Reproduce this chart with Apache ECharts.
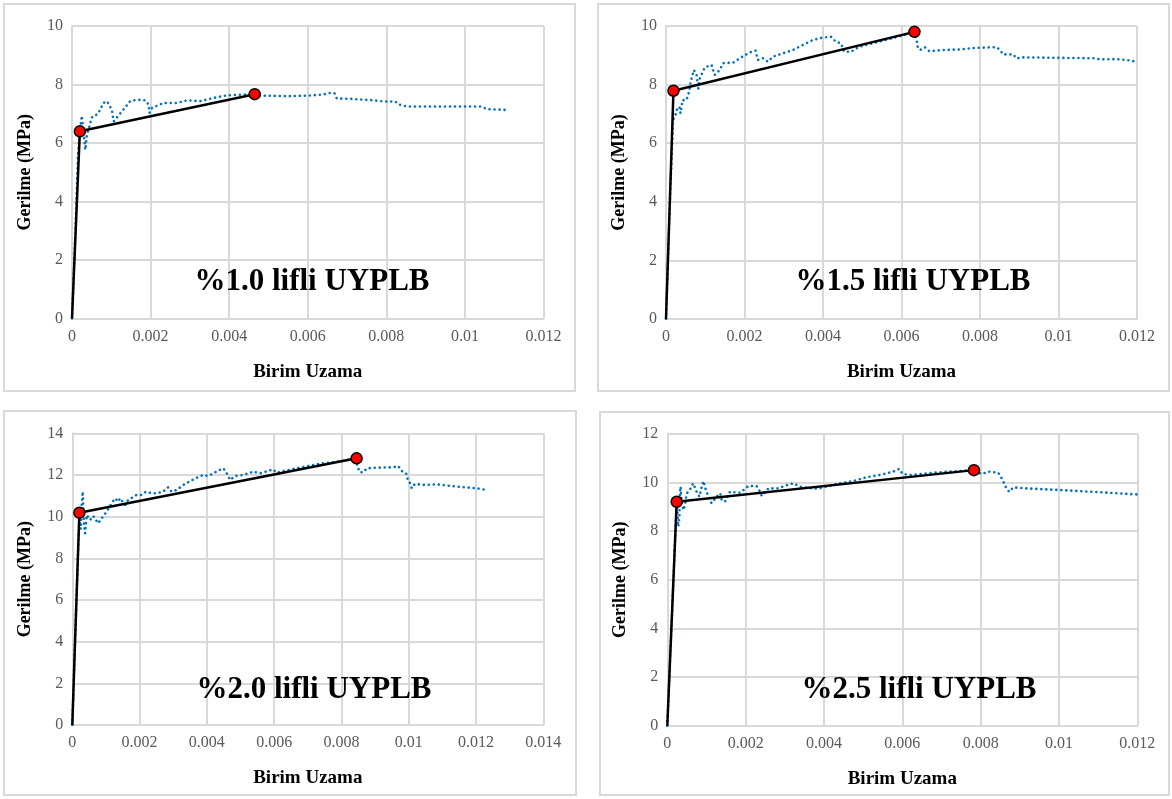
<!DOCTYPE html>
<html>
<head>
<meta charset="utf-8">
<script src="https://cdn.jsdelivr.net/npm/echarts/dist/echarts.min.js"></script>
<style>
  html, body { margin: 0; padding: 0; background: #fff; }
  #chart { width: 1172px; height: 799px; }
</style>
</head>
<body>
<div id="chart"></div>
<script>
// Measured stress-strain curves (strain, stress in MPa) and bilinear idealisations
const curve10 = [[0,0],[0.00008,2.8],[0.00015,5.5],[0.0002,6.4],[0.00025,6.93],[0.0003,6.3],[0.00034,5.77],[0.00038,6.3],[0.00045,6.6],[0.0005,6.86],[0.00055,6.94],[0.00064,6.97],[0.00072,7.14],[0.0008,7.37],[0.00089,7.43],[0.00097,7.25],[0.00102,7.08],[0.00106,6.74],[0.00127,7.08],[0.00148,7.43],[0.00165,7.48],[0.00187,7.46],[0.00195,7.31],[0.00197,7.03],[0.00204,7.2],[0.00233,7.37],[0.00267,7.37],[0.00293,7.46],[0.00326,7.43],[0.0036,7.54],[0.00394,7.63],[0.00428,7.65],[0.00462,7.67],[0.0048,7.62],[0.0055,7.6],[0.006,7.62],[0.0064,7.66],[0.00655,7.71],[0.00668,7.7],[0.00674,7.52],[0.00708,7.51],[0.00767,7.46],[0.00793,7.42],[0.00823,7.42],[0.00831,7.32],[0.00852,7.25],[0.0104,7.25],[0.01056,7.16],[0.01103,7.13]];
const bilinear10 = [[0,0],[0.0002,6.4],[0.00465,7.67]];

const curve15 = [[0,0],[0.0001,4],[0.00018,6.8],[0.00023,6.9],[0.00027,7.13],[0.00034,7.25],[0.00037,7.02],[0.00042,7.47],[0.00052,7.47],[0.00059,7.76],[0.00063,8.1],[0.00071,8.5],[0.00078,8.33],[0.00082,7.84],[0.00086,8.21],[0.00099,8.59],[0.00116,8.67],[0.00124,8.33],[0.00137,8.5],[0.00145,8.73],[0.00171,8.75],[0.00188,8.9],[0.00217,9.12],[0.00228,9.16],[0.00234,8.84],[0.00247,8.9],[0.0026,8.78],[0.00272,8.95],[0.00323,9.18],[0.00374,9.52],[0.004,9.61],[0.00421,9.63],[0.00433,9.46],[0.00446,9.41],[0.00454,9.12],[0.00471,9.12],[0.00492,9.29],[0.00526,9.41],[0.00577,9.58],[0.00633,9.8],[0.00639,9.52],[0.0064,9.32],[0.00647,9.18],[0.0066,9.27],[0.00671,9.14],[0.00706,9.18],[0.00749,9.2],[0.00783,9.25],[0.00842,9.28],[0.00851,9.18],[0.00859,9.03],[0.00885,9.03],[0.00893,8.89],[0.00906,8.93],[0.01021,8.91],[0.01089,8.9],[0.01106,8.86],[0.01148,8.87],[0.01174,8.84],[0.012,8.78]];
const bilinear15 = [[0,0],[0.00019,7.79],[0.00633,9.8]];

const curve20 = [[0,0],[0.0001,5],[0.00021,10.0],[0.00025,9.4],[0.00028,10.6],[0.00031,11.2],[0.00033,10.4],[0.00035,9.6],[0.00038,9.2],[0.00043,10.08],[0.00053,9.84],[0.00062,10.03],[0.00077,9.68],[0.00087,9.92],[0.00102,10.24],[0.00117,10.64],[0.00127,10.88],[0.00137,10.72],[0.00142,10.88],[0.00157,10.56],[0.00166,10.8],[0.00191,11.04],[0.00206,11.04],[0.00219,11.2],[0.00236,11.12],[0.00251,11.12],[0.0027,11.2],[0.00285,11.41],[0.00295,11.2],[0.0031,11.28],[0.0033,11.52],[0.0036,11.79],[0.00389,12.0],[0.00404,11.95],[0.00429,12.16],[0.00449,12.32],[0.00459,12.08],[0.00469,11.76],[0.00484,11.95],[0.00508,12.0],[0.00538,12.16],[0.00558,12.08],[0.00597,12.27],[0.00607,12.11],[0.0066,12.3],[0.00731,12.53],[0.0079,12.64],[0.00845,12.8],[0.00847,12.43],[0.00855,12.13],[0.00865,12.13],[0.00875,12.32],[0.00905,12.35],[0.00954,12.37],[0.00969,12.43],[0.00979,12.2],[0.00992,12.08],[0.00996,11.84],[0.01004,11.6],[0.01009,11.36],[0.01018,11.57],[0.01048,11.52],[0.01083,11.55],[0.01142,11.44],[0.01202,11.36],[0.01232,11.28]];
const bilinear20 = [[0,0],[0.00021,10.19],[0.00845,12.8]];

const curve25 = [[0,0],[0.00012,4.6],[0.00024,9.2],[0.00028,8.18],[0.00031,8.59],[0.00032,9.55],[0.00034,9.82],[0.00036,9.2],[0.00041,8.86],[0.00045,9.07],[0.0005,9.55],[0.00058,9.71],[0.00066,9.96],[0.00075,9.61],[0.00082,9.41],[0.00088,9.82],[0.00092,10.05],[0.00096,10.03],[0.001,9.61],[0.00113,9.14],[0.00126,9.41],[0.00135,9.55],[0.00139,9.27],[0.00147,9.2],[0.0016,9.61],[0.00186,9.57],[0.00207,9.85],[0.00228,9.85],[0.00237,9.61],[0.00241,9.44],[0.00258,9.75],[0.00283,9.75],[0.003,9.86],[0.00322,9.96],[0.00339,9.82],[0.00369,9.75],[0.00386,9.75],[0.00407,9.82],[0.00441,9.96],[0.00475,10.05],[0.00509,10.21],[0.00543,10.3],[0.00577,10.44],[0.00592,10.55],[0.00601,10.34],[0.0062,10.3],[0.00679,10.39],[0.00722,10.44],[0.00783,10.5],[0.00803,10.34],[0.0082,10.44],[0.00845,10.39],[0.00854,10.16],[0.0086,9.96],[0.00866,9.75],[0.00873,9.61],[0.00883,9.79],[0.00918,9.75],[0.01003,9.68],[0.01088,9.61],[0.01147,9.55],[0.012,9.5]];
const bilinear25 = [[0,0],[0.00024,9.2],[0.00783,10.5]];

const panelLabels = ['%1.0 lifli UYPLB', '%1.5 lifli UYPLB', '%2.0 lifli UYPLB', '%2.5 lifli UYPLB'];
const curves = [curve10, curve15, curve20, curve25];
const bilinears = [bilinear10, bilinear15, bilinear20, bilinear25];
const xMaxes = [0.012, 0.012, 0.014, 0.012];
const yMaxes = [10, 10, 14, 12];
const xTitle = 'Birim Uzama';
const yTitle = 'Gerilme (MPa)';

// Layout of the four panels
const layout = [
  { grid: { left: 72, top: 26, width: 471.5, height: 292.5 }, frame: [4, 4, 571, 387], label: [312, 282] },
  { grid: { left: 666, top: 26, width: 471, height: 293 }, frame: [598, 4, 571, 387], label: [913, 282] },
  { grid: { left: 72.3, top: 433.3, width: 471, height: 291.7 }, frame: [4, 411, 572, 384], label: [314, 690] },
  { grid: { left: 667.3, top: 433.6, width: 470, height: 292.2 }, frame: [600, 412, 569, 383], label: [919, 690] }
];

const SERIF = '"Liberation Serif", "Times New Roman", serif';
const gridColor = '#d9d9d9';

const grids = [], xAxes = [], yAxes = [], series = [], graphics = [];

layout.forEach((lay, i) => {
  grids.push(Object.assign({ containLabel: false }, lay.grid));
  xAxes.push({
    type: 'value', gridIndex: i, min: 0, max: xMaxes[i], interval: 0.002,
    name: xTitle, nameLocation: 'middle', nameGap: 44,
    nameTextStyle: { fontFamily: SERIF, fontWeight: 'bold', fontSize: 19, color: '#000' },
    axisLine: { show: true, lineStyle: { color: gridColor, width: 2 } },
    axisTick: { show: false },
    axisLabel: { fontFamily: SERIF, fontSize: 16, color: '#595959', margin: 10 },
    splitLine: { show: true, lineStyle: { color: gridColor, width: 2 } }
  });
  yAxes.push({
    type: 'value', gridIndex: i, min: 0, max: yMaxes[i], interval: 2,
    name: yTitle, nameLocation: 'middle', nameGap: 38, nameRotate: 90,
    nameTextStyle: { fontFamily: SERIF, fontWeight: 'bold', fontSize: 18, color: '#000' },
    axisLine: { show: true, lineStyle: { color: gridColor, width: 2 } },
    axisTick: { show: false },
    axisLabel: { fontFamily: SERIF, fontSize: 16, color: '#595959', margin: 9 },
    splitLine: { show: true, lineStyle: { color: gridColor, width: 2 } }
  });
  // measured curve: round-dot line
  series.push({
    type: 'line', xAxisIndex: i, yAxisIndex: i, data: curves[i],
    symbol: 'none', showSymbol: false, z: 2,
    lineStyle: { color: '#0070C0', width: 2.6, type: [0.01, 5], cap: 'round' }
  });
  // bilinear idealisation with marked knee and peak
  series.push({
    type: 'line', xAxisIndex: i, yAxisIndex: i, z: 3,
    data: bilinears[i].map((p, k) => ({ value: p, symbol: k === 0 ? 'none' : 'circle' })),
    symbolSize: 11, showSymbol: true,
    lineStyle: { color: '#000', width: 2.5 },
    itemStyle: { color: '#ff0000', borderColor: '#000', borderWidth: 1.5 }
  });
  graphics.push({
    type: 'rect', silent: true, z: -1,
    shape: { x: lay.frame[0], y: lay.frame[1], width: lay.frame[2], height: lay.frame[3] },
    style: { fill: 'none', stroke: gridColor, lineWidth: 2 }
  });
  graphics.push({
    type: 'text', silent: true, z: 10, x: lay.label[0], y: lay.label[1],
    style: {
      text: panelLabels[i], font: 'bold 31px ' + SERIF, fill: '#000',
      textAlign: 'center', textVerticalAlign: 'middle', align: 'center', verticalAlign: 'middle'
    }
  });
});

const chart = echarts.init(document.getElementById('chart'), null, { renderer: 'canvas' });
chart.setOption({
  animation: false,
  backgroundColor: '#fff',
  grid: grids,
  xAxis: xAxes,
  yAxis: yAxes,
  series: series,
  graphic: graphics
});
</script>
</body>
</html>
